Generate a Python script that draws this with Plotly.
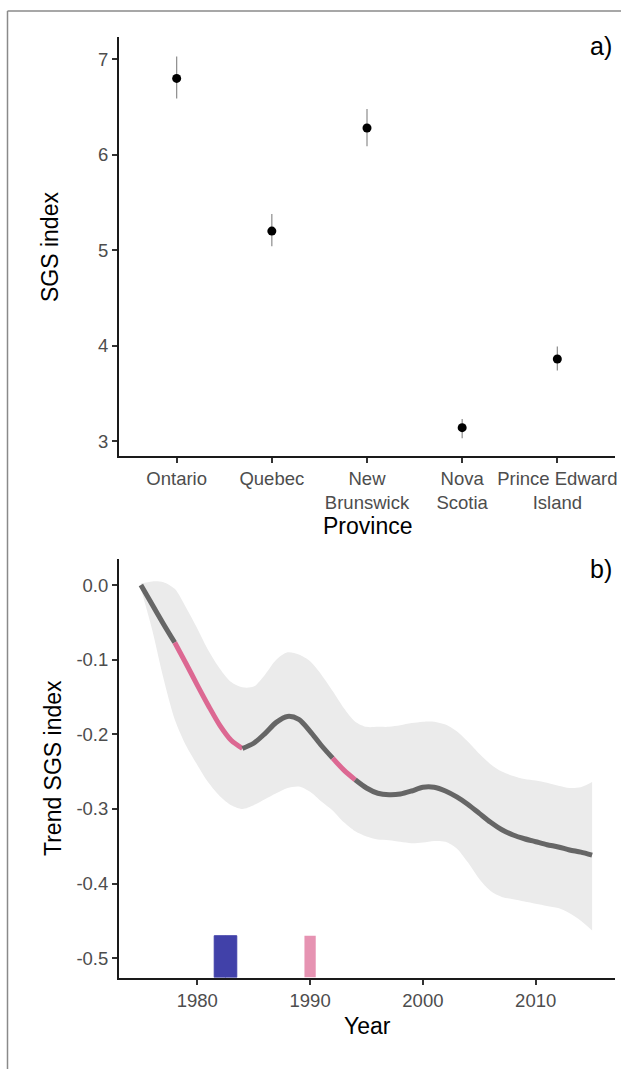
import plotly.graph_objects as go

# ---------------- Panel a data ----------------
provinces = ["Ontario", "Quebec", "New<br>Brunswick", "Nova<br>Scotia", "Prince Edward<br>Island"]
sgs_mean = [6.80, 5.20, 6.28, 3.14, 3.86]
sgs_low = [6.59, 5.04, 6.09, 3.03, 3.74]
sgs_high = [7.03, 5.38, 6.48, 3.23, 3.99]

# ---------------- Panel b data ----------------
years = list(range(1975, 2016))
trend = [0.000, -0.026, -0.052, -0.077, -0.105, -0.134, -0.162, -0.188, -0.208, -0.219,
         -0.212, -0.199, -0.184, -0.176, -0.180, -0.196, -0.215, -0.232, -0.248, -0.261,
         -0.272, -0.279, -0.281, -0.280, -0.276, -0.271, -0.271, -0.276, -0.284, -0.294,
         -0.306, -0.318, -0.328, -0.335, -0.340, -0.344, -0.348, -0.351, -0.355, -0.358,
         -0.362]
upper = [0.002, 0.005, 0.004, -0.005, -0.030, -0.058, -0.088, -0.112, -0.130, -0.137,
         -0.136, -0.120, -0.100, -0.090, -0.093, -0.102, -0.120, -0.142, -0.165, -0.183,
         -0.190, -0.190, -0.190, -0.188, -0.185, -0.183, -0.183, -0.187, -0.196, -0.210,
         -0.226, -0.240, -0.250, -0.256, -0.260, -0.262, -0.265, -0.269, -0.272, -0.271,
         -0.264]
lower = [-0.005, -0.060, -0.125, -0.180, -0.215, -0.241, -0.265, -0.283, -0.295, -0.300,
         -0.295, -0.287, -0.279, -0.272, -0.270, -0.277, -0.290, -0.302, -0.318, -0.330,
         -0.337, -0.341, -0.342, -0.344, -0.346, -0.345, -0.343, -0.344, -0.353, -0.372,
         -0.394, -0.410, -0.418, -0.421, -0.424, -0.427, -0.430, -0.433, -0.440, -0.450,
         -0.463]
# periods of significant change (start, end) of trend curve
sig_periods = [(1978, 1984), (1992, 1994)]
# breakpoint years shown as bars
blue_years = [1982, 1983]
pink_years = [1990]
bar_top = -0.47

FONT = "Liberation Sans, Arial, sans-serif"
W, H = 621, 1069
GREY_LINE = "#666666"
PINK_LINE = "#dc6892"
BLUE_BAR = "#4141a9"
PINK_BAR = "#e693b2"

fig = go.Figure()

# Panel a
xs = list(range(1, len(provinces) + 1))
fig.add_trace(go.Scatter(
    x=xs, y=sgs_mean, mode="markers", xaxis="x", yaxis="y",
    marker=dict(color="black", size=9),
    error_y=dict(type="data", symmetric=False,
                 array=[h - m for h, m in zip(sgs_high, sgs_mean)],
                 arrayminus=[m - l for m, l in zip(sgs_mean, sgs_low)],
                 color="#8c8c8c", thickness=1.2, width=0),
    showlegend=False, hoverinfo="skip"))

# Panel b: ribbon
fig.add_trace(go.Scatter(x=years, y=upper, mode="lines", line=dict(width=0, shape="spline", smoothing=0.8),
                         xaxis="x2", yaxis="y2", showlegend=False, hoverinfo="skip"))
fig.add_trace(go.Scatter(x=years, y=lower, mode="lines", line=dict(width=0, shape="spline", smoothing=0.8),
                         fill="tonexty", fillcolor="#ebebeb",
                         xaxis="x2", yaxis="y2", showlegend=False, hoverinfo="skip"))

# Bars
bottom_b = -0.526
fig.add_trace(go.Bar(x=blue_years, y=[bar_top - bottom_b] * len(blue_years), base=bottom_b,
                     width=1, marker=dict(color=BLUE_BAR, line=dict(width=1, color=BLUE_BAR)),
                     xaxis="x2", yaxis="y2", showlegend=False, hoverinfo="skip"))
fig.add_trace(go.Bar(x=pink_years, y=[bar_top - bottom_b] * len(pink_years), base=bottom_b,
                     width=1, marker=dict(color=PINK_BAR, line=dict(width=0)),
                     xaxis="x2", yaxis="y2", showlegend=False, hoverinfo="skip"))

# Trend line segments
def in_sig(y0, y1):
    for a, b in sig_periods:
        if y0 >= a and y1 <= b:
            return True
    return False

bounds = sorted(set([years[0], years[-1]] + [p for per in sig_periods for p in per]))
for s, e in zip(bounds[:-1], bounds[1:]):
    idx = [i for i, yr in enumerate(years) if s <= yr <= e]
    col = PINK_LINE if in_sig(s, e) else GREY_LINE
    fig.add_trace(go.Scatter(x=[years[i] for i in idx], y=[trend[i] for i in idx],
                             mode="lines", line=dict(color=col, width=5, shape="spline", smoothing=0.8),
                             xaxis="x2", yaxis="y2", showlegend=False, hoverinfo="skip"))

axis_common = dict(showline=True, linecolor="#1a1a1a", linewidth=2, ticks="outside", ticklen=5,
                   tickwidth=1.5, tickcolor="#333333", showgrid=False, zeroline=False,
                   automargin=False,
                   tickfont=dict(family=FONT, size=18.5, color="#4d4d4d"))

xl, xr = 119 / W, 615 / W
fig.update_layout(
    width=W, height=H, margin=dict(l=0, r=0, t=0, b=0, autoexpand=False),
    paper_bgcolor="white", plot_bgcolor="white", barmode="overlay",
    xaxis=dict(domain=[xl, xr], anchor="y", range=[0.394, 5.606],
               tickvals=xs, ticktext=provinces, **axis_common),
    yaxis=dict(domain=[1 - 456 / H, 1 - 37 / H], anchor="x", range=[2.843, 7.234],
               tickvals=[3, 4, 5, 6, 7], **axis_common),
    xaxis2=dict(domain=[xl, xr], anchor="y2", range=[1973.06, 2017.03],
                tickvals=[1980, 1990, 2000, 2010], **axis_common),
    yaxis2=dict(domain=[1 - 977.5 / H, 1 - 559 / H], anchor="x2", range=[bottom_b, 0.035],
                tickvals=[0.0, -0.1, -0.2, -0.3, -0.4, -0.5],
                ticktext=["0.0", "-0.1", "-0.2", "-0.3", "-0.4", "-0.5"], **axis_common),
)

title_font = dict(family=FONT, size=23, color="black")
ann = [
    dict(text="SGS index", x=50 / W, y=1 - 247 / H, textangle=-90),
    dict(text="Province", x=367 / W, y=1 - 526 / H),
    dict(text="Trend SGS index", x=53 / W, y=1 - 768 / H, textangle=-90),
    dict(text="Year", x=367 / W, y=1 - 1026 / H),
    dict(text="a)", x=601 / W, y=1 - 46 / H, font=dict(family=FONT, size=25, color="black")),
    dict(text="b)", x=601 / W, y=1 - 569 / H, font=dict(family=FONT, size=25, color="black")),
]
for a in ann:
    a.setdefault("font", title_font)
    fig.add_annotation(xref="paper", yref="paper", showarrow=False,
                       xanchor="center", yanchor="middle", **a)

# Image frame (left and top border)
fig.add_shape(type="line", xref="paper", yref="paper", x0=7.5 / W, x1=7.5 / W, y0=0, y1=1 - 11 / H,
              line=dict(color="#8a8a8a", width=1.5))
fig.add_shape(type="line", xref="paper", yref="paper", x0=7.5 / W, x1=1, y0=1 - 11 / H, y1=1 - 11 / H,
              line=dict(color="#8a8a8a", width=1.5))

fig.write_html("out.html", config={"displayModeBar": False},
               post_script="document.body.style.margin='0';document.body.style.overflow='hidden';")
